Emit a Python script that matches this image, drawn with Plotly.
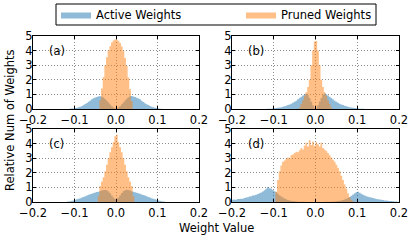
import numpy as np
import plotly.graph_objects as go

# ---------------- data ----------------
bin_width = 0.004
series_names = ["Active Weights", "Pruned Weights"]
panel_labels = ["(a)", "(b)", "(c)", "(d)"]
x_tick_vals = [-0.2, -0.1, 0.0, 0.1, 0.2]
x_tick_labels = ["\u22120.2", "\u22120.1", "0.0", "0.1", "0.2"]
y_tick_vals = [0, 1, 2, 3, 4, 5]

# histogram heights; each list starts at the given left bin edge
a_active_start = -0.12
a_active = [0.004, 0.008, 0.016, 0.026, 0.041, 0.061, 0.088, 0.12, 0.16, 0.21,
            0.27, 0.34, 0.41, 0.49, 0.58, 0.66, 0.73, 0.78, 0.83, 0.87,
            0.88, 0.86, 0.79, 0.69, 0.57, 0.44, 0.31, 0.19, 0.10, 0.03,
            0.03, 0.10, 0.20, 0.32, 0.45, 0.58, 0.70, 0.80, 0.87, 0.89,
            0.86, 0.82, 0.77, 0.72, 0.66, 0.57, 0.48, 0.40, 0.33, 0.27,
            0.21, 0.16, 0.12, 0.09, 0.06, 0.04, 0.025, 0.015, 0.008, 0.004]
a_pruned_start = -0.04
a_pruned = [0.6, 1.4, 2.2, 3.0, 3.55, 4.0, 4.3, 4.55, 4.7, 4.76,
            4.74, 4.68, 4.52, 4.28, 3.98, 3.5, 2.95, 2.15, 1.35, 0.55]

b_active_start = -0.12
b_active = [0.007, 0.011, 0.017, 0.025, 0.035, 0.05, 0.065, 0.08, 0.1, 0.125,
            0.155, 0.19, 0.23, 0.27, 0.31, 0.36, 0.42, 0.49, 0.57, 0.66,
            0.75, 0.84, 0.93, 1.0, 1.05, 0.95, 0.75, 0.5, 0.25, 0.05,
            0.05, 0.26, 0.52, 0.76, 0.96, 1.06, 1.01, 0.93, 0.84, 0.75,
            0.66, 0.57, 0.49, 0.42, 0.36, 0.31, 0.27, 0.23, 0.19, 0.155,
            0.125, 0.1, 0.08, 0.065, 0.05, 0.035, 0.025, 0.017, 0.011, 0.007]
b_pruned_start = -0.04
b_pruned = [0.1, 0.35, 0.6, 0.9, 1.15, 1.5, 2.0, 3.0, 4.0, 4.62,
            4.65, 4.0, 3.0, 2.0, 1.5, 1.15, 0.9, 0.6, 0.35, 0.1]

c_active_start = -0.12
c_active = [0.02, 0.035, 0.055, 0.08, 0.11, 0.15, 0.18, 0.22, 0.26, 0.31,
            0.35, 0.4, 0.45, 0.49, 0.53, 0.57, 0.61, 0.65, 0.68, 0.71,
            0.75, 0.79, 0.82, 0.83, 0.8, 0.72, 0.6, 0.45, 0.3, 0.2,
            0.2, 0.31, 0.46, 0.61, 0.73, 0.81, 0.84, 0.82, 0.78, 0.74,
            0.7, 0.67, 0.64, 0.6, 0.56, 0.52, 0.48, 0.44, 0.39, 0.34,
            0.3, 0.26, 0.22, 0.18, 0.15, 0.11, 0.08, 0.055, 0.035, 0.02]
c_pruned_start = -0.044
c_pruned = [0.4, 1.1, 1.4, 1.7, 2.1, 2.55, 3.0, 3.4, 3.75, 4.1, 4.5,
            4.6, 4.1, 3.75, 3.4, 3.0, 2.55, 2.1, 1.7, 1.4, 1.1, 0.4]

d_active_start = -0.2
d_active = [0.15, 0.17, 0.16, 0.2, 0.21, 0.23, 0.22, 0.27, 0.3, 0.33,
            0.38, 0.4, 0.44, 0.47, 0.5, 0.55, 0.6, 0.65, 0.72, 0.8,
            0.9, 1.02, 0.95, 0.9, 0.82, 0.74, 0.66, 0.56, 0.47, 0.38,
            0.3, 0.24, 0.18, 0.14, 0.1, 0.08, 0.06, 0.045, 0.035, 0.025,
            0.02, 0.015, 0.01, 0.01, 0.005, 0.005, 0.0, 0.0, 0.0, 0.0,
            0.0, 0.0, 0.0, 0.005, 0.005, 0.01, 0.01, 0.015, 0.02, 0.025,
            0.03, 0.04, 0.05, 0.06, 0.08, 0.1, 0.13, 0.17, 0.22, 0.28,
            0.35, 0.43, 0.52, 0.6, 0.67, 0.7, 0.64, 0.57, 0.5, 0.45,
            0.4, 0.36, 0.33, 0.3, 0.27, 0.24, 0.21, 0.19, 0.17, 0.15,
            0.13, 0.11, 0.1, 0.08, 0.07, 0.06, 0.05, 0.04, 0.03, 0.02]
d_pruned_start = -0.096
d_pruned = [0.7, 1.5, 2.1, 2.5, 2.75, 2.85, 2.95, 3.05, 3.0, 3.2,
            3.25, 3.35, 3.45, 3.4, 3.55, 3.7, 3.6, 3.85, 4.05, 3.8,
            4.25, 3.9, 4.15, 3.85, 4.1, 3.95, 3.8, 4.05, 3.7, 3.6,
            3.5, 3.35, 3.2, 3.05, 2.9, 2.75, 2.55, 2.35, 2.1, 1.8,
            1.5, 1.2, 0.9, 0.6, 0.35, 0.15, 0.05, 0.0]

panels = [
    (a_active_start, a_active, a_pruned_start, a_pruned),
    (b_active_start, b_active, b_pruned_start, b_pruned),
    (c_active_start, c_active, c_pruned_start, c_pruned),
    (d_active_start, d_active, d_pruned_start, d_pruned),
]

# ---------------- style ----------------
fills = ["rgba(31,119,180,0.5)", "rgba(255,127,14,0.5)"]
FONT = "DejaVu Sans"
W, H = 411, 240
ml, mr, mt, mb = 33, 12, 36, 38
pw, ph = W - ml - mr, H - mt - mb
x_domains = [[0, 166 / pw], [(232 - ml) / pw, 1]]
y_domains = [[(202 - 109) / ph, 1], [0, (202 - 129) / ph]]


def px_x(p):
    return (p - ml) / pw


def px_y(p):
    return (H - mb - p) / ph


fig = go.Figure()


def step_xy(start, vals):
    edges = start + bin_width * np.arange(len(vals) + 1)
    return edges, list(vals) + [vals[-1]]


legend_ids = ["legend", "legend2"]
for i, (s_a, act, s_p, pru) in enumerate(panels):
    xa = "x" if i == 0 else f"x{i + 1}"
    ya = "y" if i == 0 else f"y{i + 1}"
    for j, (start, vals) in enumerate([(s_a, act), (s_p, pru)]):
        ex, ey = step_xy(start, vals)
        fig.add_trace(go.Scatter(
            x=ex, y=ey, mode="lines", line=dict(width=0, shape="hv"),
            fill="tozeroy", fillcolor=fills[j], name=series_names[j],
            showlegend=(i == 0), legend=legend_ids[j],
            xaxis=xa, yaxis=ya, hoverinfo="skip"))

axis_common = dict(
    showline=True, linecolor="black", linewidth=1, mirror="ticks",
    ticks="inside", ticklen=3, tickwidth=1, tickcolor="black",
    showgrid=True, gridcolor="#8c8c8c", gridwidth=1, griddash="1px,2px",
    zeroline=False, tickfont=dict(family=FONT, size=11.5, color="black"),
)

leg_common = dict(orientation="h", xanchor="left", yanchor="middle",
                  y=px_y(14.5), borderwidth=0, bgcolor="rgba(0,0,0,0)",
                  font=dict(family=FONT, size=11.5, color="black"),
                  itemwidth=30)

layout = dict(
    width=W, height=H, margin=dict(l=ml, r=mr, t=mt, b=mb, autoexpand=False),
    paper_bgcolor="white", plot_bgcolor="white",
    font=dict(family=FONT, size=11.5, color="black"),
    legend=dict(leg_common, x=px_x(56)),
    legend2=dict(leg_common, x=px_x(241)),
    shapes=[dict(type="rect", xref="paper", yref="paper",
                 x0=px_x(56), x1=px_x(376), y0=px_y(25), y1=px_y(4),
                 line=dict(color="black", width=1), fillcolor="rgba(0,0,0,0)",
                 layer="above")],
)
for i in range(4):
    r, c = divmod(i, 2)
    xk = "xaxis" if i == 0 else f"xaxis{i + 1}"
    yk = "yaxis" if i == 0 else f"yaxis{i + 1}"
    ya = "y" if i == 0 else f"y{i + 1}"
    xa = "x" if i == 0 else f"x{i + 1}"
    layout[xk] = dict(axis_common, domain=x_domains[c], anchor=ya,
                      range=[-0.2, 0.2], tickvals=x_tick_vals,
                      ticktext=x_tick_labels)
    layout[yk] = dict(axis_common, domain=y_domains[r], anchor=xa,
                      range=[0, 5], tickvals=y_tick_vals,
                      ticklabelstandoff=-3)

annotations = []
for i, lab in enumerate(panel_labels):
    xa = "x" if i == 0 else f"x{i + 1}"
    ya = "y" if i == 0 else f"y{i + 1}"
    annotations.append(dict(text=lab, x=-0.167, y=4.0, xref=xa, yref=ya,
                            xanchor="left", yanchor="middle", showarrow=False,
                            font=dict(family=FONT, size=11.5, color="black")))
annotations.append(dict(text="Weight Value", x=0.5, y=px_y(228),
                        xref="paper", yref="paper", xanchor="center",
                        yanchor="middle", showarrow=False,
                        font=dict(family=FONT, size=11.5, color="black")))
annotations.append(dict(text="Relative Num of Weights", x=px_x(10),
                        y=px_y(120), xref="paper", yref="paper",
                        xanchor="center", yanchor="middle", textangle=-90,
                        showarrow=False,
                        font=dict(family=FONT, size=11.5, color="black")))
layout["annotations"] = annotations

fig.update_layout(**layout)
fig.write_html("out.html", config={"displayModeBar": False},
               post_script="document.body.style.margin='0px';")
